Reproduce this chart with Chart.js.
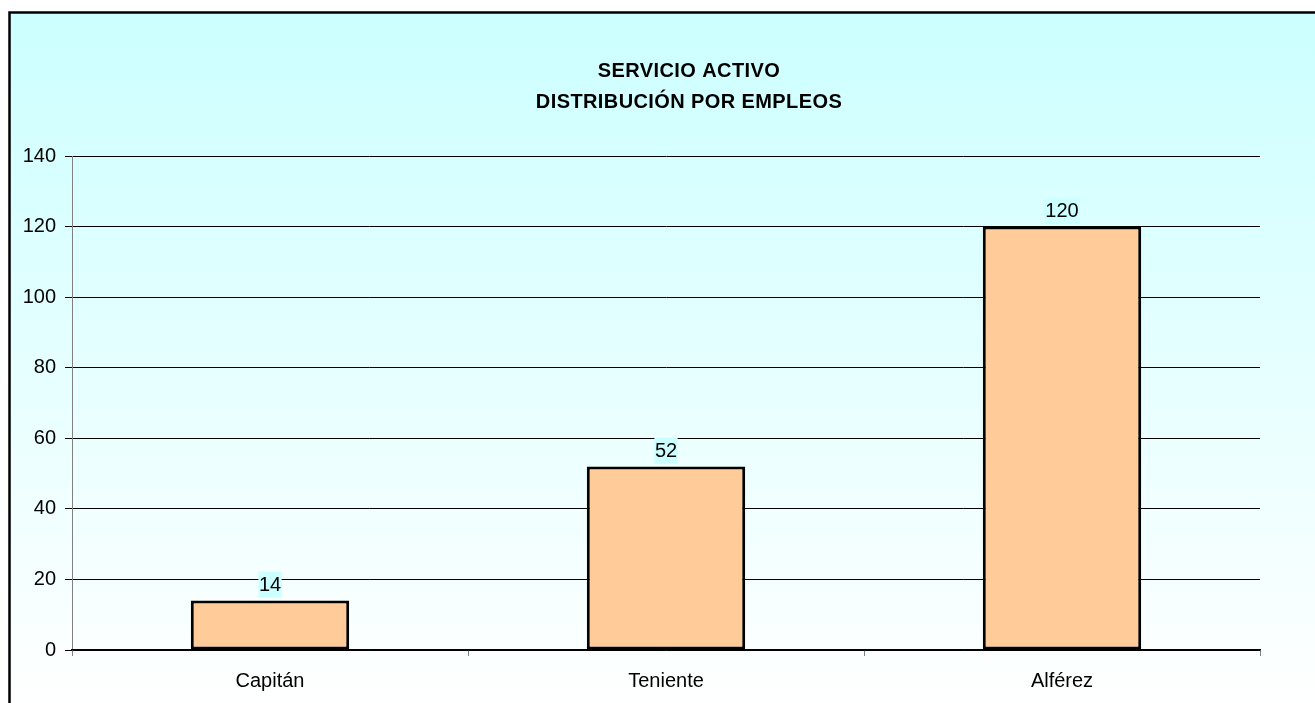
<!DOCTYPE html>
<html>
<head>
<meta charset="utf-8">
<script src="https://cdn.jsdelivr.net/npm/chart.js@4/dist/chart.umd.min.js"></script>
<style>
  html, body { margin: 0; padding: 0; background: #fff; overflow: hidden; }
  canvas { display: block; }
</style>
</head>
<body>
<canvas id="empleos" width="1315" height="703"></canvas>
<script>
const titleLines = ['SERVICIO ACTIVO', 'DISTRIBUCIÓN POR EMPLEOS']
const categories = ['Capitán', 'Teniente', 'Alférez']
const values = [14, 52, 120]
const yMin = 0
const yMax = 140
const yStep = 20

const FONT = "'Liberation Sans', Arial, sans-serif"

// fondo degradado + borde + título, como en la hoja de Excel
const frame = {
    id: 'frame',
    beforeDraw(chart) {
        const ctx = chart.ctx
        ctx.save()
        ctx.fillStyle = '#ffffff'
        ctx.fillRect(0, 0, chart.width, chart.height)
        const g = ctx.createLinearGradient(0, 12, 0, 703)
        g.addColorStop(0, '#ccffff')
        g.addColorStop(1, '#ffffff')
        ctx.fillStyle = g
        ctx.fillRect(9, 12, chart.width, chart.height)
        ctx.strokeStyle = '#000000'
        ctx.lineWidth = 2.5
        ctx.strokeRect(9.5, 12.5, chart.width + 20, chart.height + 20)

        ctx.fillStyle = '#000000'
        ctx.font = 'bold 20px ' + FONT
        ctx.letterSpacing = '0.4px'
        ctx.textAlign = 'center'
        ctx.textBaseline = 'middle'
        ctx.fillText(titleLines[0], 689, 71)
        ctx.fillText(titleLines[1], 689, 102)
        ctx.restore()
    }
}

// etiquetas de valor con fondo celeste
const valueLabels = {
    id: 'valueLabels',
    afterDatasetsDraw(chart) {
        const ctx = chart.ctx
        const meta = chart.getDatasetMeta(0)
        ctx.save()
        ctx.font = '20px ' + FONT
        ctx.textAlign = 'center'
        ctx.textBaseline = 'middle'
        meta.data.forEach((bar, i) => {
            const txt = String(values[i])
            const w = ctx.measureText(txt).width + 1
            const h = 26
            const bottom = bar.y - 3
            ctx.fillStyle = '#ccffff'
            ctx.fillRect(bar.x - w / 2, bottom - h, w, h)
            ctx.fillStyle = '#000000'
            ctx.fillText(txt, bar.x, bottom - h / 2 + 1)
        })
        ctx.restore()
    }
}

new Chart(document.getElementById('empleos'), {
    type: 'bar',
    data: {
        labels: categories,
        datasets: [{
            data: values,
            backgroundColor: '#ffcc99',
            borderColor: '#000000',
            borderWidth: 3,
            borderSkipped: false,
            categoryPercentage: 1,
            barPercentage: 0.4
        }]
    },
    options: {
        responsive: false,
        animation: false,
        layout: { padding: { top: 156, right: 55, left: 0, bottom: 0 } },
        plugins: {
            legend: { display: false },
            title: { display: false },
            tooltip: { enabled: false }
        },
        scales: {
            y: {
                min: yMin,
                max: yMax,
                ticks: { stepSize: yStep, color: '#000', font: { family: FONT, size: 20 }, padding: 9 },
                grid: { color: '#000000', lineWidth: 1, tickLength: 7, tickColor: '#000' },
                border: { color: '#808080', width: 1 },
                afterFit(scale) { scale.width = 72 }
            },
            x: {
                ticks: { color: '#000', font: { family: FONT, size: 20 }, padding: 13 },
                grid: { drawOnChartArea: false, offset: true, tickLength: 6, color: '#808080' },
                border: { color: '#000000', width: 1.5 },
                afterFit(scale) { scale.height = 53 }
            }
        }
    },
    plugins: [frame, valueLabels]
})
</script>
</body>
</html>
